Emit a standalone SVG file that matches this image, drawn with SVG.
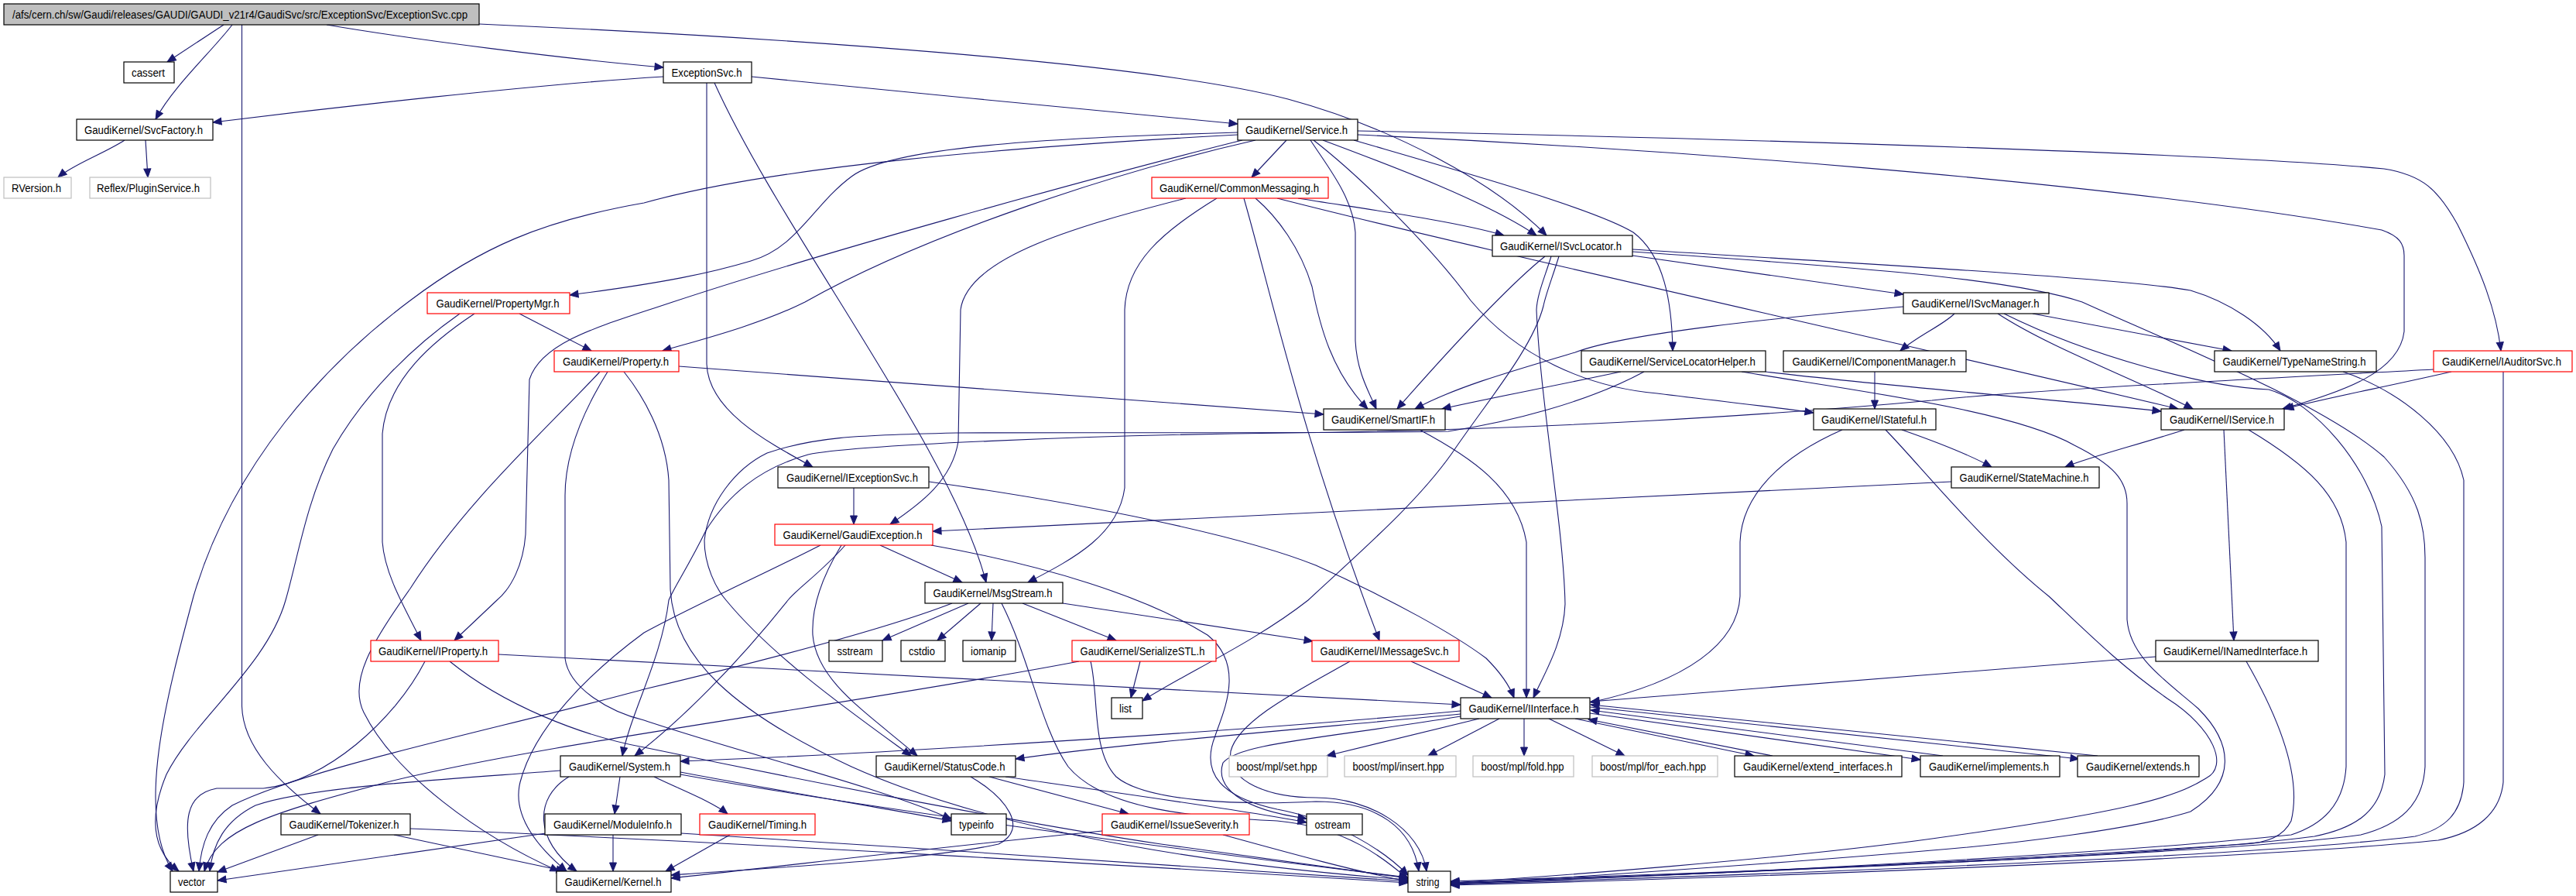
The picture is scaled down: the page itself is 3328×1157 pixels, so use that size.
<svg xmlns="http://www.w3.org/2000/svg" width="3328" height="1157" viewBox="0 0 3328 1157">
<style>
.n rect{fill:#fff;stroke:#000;stroke-width:1.2}
.n.r rect{stroke:#f00}
.n.g rect{stroke:#bfbfbf}
.n.root rect{fill:#bfbfbf}
.n text{font-family:"Liberation Sans",Arial,sans-serif;font-size:14px;fill:#000}
#edges path{fill:none;stroke:#191970;stroke-width:1.1;marker-end:url(#ah)}
</style>
<defs>
<marker id="ah" markerUnits="userSpaceOnUse" markerWidth="13" markerHeight="11" refX="11" refY="4.5" orient="auto" viewBox="-1 -1 13 11"><path d="M0,0 L11,4.5 L0,9 z" fill="#191970" stroke="#191970" stroke-width="1"/></marker>
</defs>
<rect width="3328" height="1157" fill="#fff"/>
<g id="edges">
<path d="M289,32 L216,80"/>
<path d="M300,32 C275,65 225,110 201,154"/>
<path d="M312.5,32 L312.5,912 C314,965 360,1010 414,1051"/>
<path d="M422,32 C540,52 730,76 857,87"/>
<path d="M619,31 C1000,48 1480,80 1664,128 C1800,165 1930,235 1998,304"/>
<path d="M857,99 C700,108 420,140 275,158"/>
<path d="M971,99 C1150,117 1450,146 1599,160"/>
<path d="M913,107 L913,470 C915,530 990,570 1050,603"/>
<path d="M923,107 C1010,300 1230,580 1274,752"/>
<path d="M161,181 C135,198 95,212 75,229"/>
<path d="M188,181 L191,229"/>
<path d="M1662,181 L1617,229"/>
<path d="M1709,181 C1800,215 1920,260 1985,304"/>
<path d="M1677,256 C1750,268 1880,285 1943,304"/>
<path d="M1599,171 C1350,178 1150,190 1100,228 C1050,265 1030,320 970,337 C920,352 860,365 736,381"/>
<path d="M1599,174 C1300,190 1000,215 832,262 C700,285 620,320 530,388 C420,470 300,600 250,770 C215,900 175,1050 223,1125"/>
<path d="M1622,181 C1450,220 1200,300 1040,390 C980,420 900,440 856,453"/>
<path d="M1605,181 C1400,232 1050,330 869,390 C780,420 700,440 684,490 L679,690 C676,730 660,760 642,775 L587,827"/>
<path d="M1693,181 C1715,215 1748,255 1751,300 L1751,440 C1753,480 1768,505 1778,528"/>
<path d="M1622,256 C1650,280 1680,320 1695,370 C1705,420 1720,480 1767,528"/>
<path d="M1996,331 C1960,360 1900,420 1805,528"/>
<path d="M2459,396 C2300,410 2100,430 2035,455 C1950,480 1880,500 1828,528"/>
<path d="M2094,480 C2000,500 1920,515 1863,528"/>
<path d="M877,473 L1710,535"/>
<path d="M1697,181 C1760,230 1850,320 1900,388 C1960,460 2050,500 2141,508 C2220,518 2290,525 2343,533"/>
<path d="M1749,181 C1900,225 2060,270 2110,300 C2150,330 2160,390 2161,453"/>
<path d="M1754,174 C2100,190 2700,230 3077,297 C3100,305 3106,315 3106,330 L3106,428 C3100,480 3030,505 2949,528"/>
<path d="M1754,169 C2300,180 2900,200 3080,218 C3130,226 3150,245 3175,290 C3205,350 3225,400 3231,453"/>
<path d="M1650,256 C1900,320 2400,430 2814,528"/>
<path d="M1532,256 C1400,290 1250,330 1241,400 L1238,570 C1230,620 1190,650 1150,677"/>
<path d="M1572,256 C1500,300 1455,340 1453,400 L1453,630 C1445,690 1390,720 1328,752"/>
<path d="M1607,256 C1640,370 1680,560 1782,827"/>
<path d="M2109,330 L2459,380"/>
<path d="M2109,322 C2400,340 2750,360 2830,375 C2880,390 2925,420 2946,453"/>
<path d="M2109,325 C2400,345 2600,360 2690,390 C2800,440 3000,520 3080,590 C3125,640 3133,680 3133,720 L3133,990 C3130,1040 3100,1065 3050,1078 C2900,1100 2300,1125 1874,1138"/>
<path d="M2014,331 C2005,360 1997,380 1994,395 C1980,450 1920,520 1876,585 C1830,650 1760,710 1690,775 C1620,830 1530,870 1476,905"/>
<path d="M2004,331 C1995,360 1986,380 1985,400 C1990,520 2020,680 2022,780 C2020,830 1995,870 1981,901"/>
<path d="M2525,405 C2510,420 2480,432 2455,453"/>
<path d="M2626,405 L2883,453"/>
<path d="M2581,405 C2650,450 2760,490 2833,528"/>
<path d="M2589,405 C2700,460 2850,500 2931,503 C2990,520 3060,600 3077,680 L3081,1000 C3075,1050 3040,1070 2990,1080 C2800,1105 2300,1125 1874,1140"/>
<path d="M2281,480 C2450,500 2650,515 2792,531"/>
<path d="M2250,480 C2400,505 2600,530 2680,575 C2730,600 2748,620 2748,650 L2748,800 C2752,850 2800,880 2840,915 C2885,960 2890,1010 2830,1048 C2760,1070 2600,1090 2496,1098 C2300,1115 2000,1135 1874,1142"/>
<path d="M2436,555 C2480,600 2560,700 2647,770 C2700,820 2740,860 2800,902 C2860,940 2880,990 2850,1005 C2810,1030 2750,1048 2496,1083 C2300,1110 2000,1132 1874,1140"/>
<path d="M2422,480 L2422,528"/>
<path d="M3167,480 C3080,500 3000,515 2952,528"/>
<path d="M3234,480 L3234,1010 C3230,1050 3200,1075 3150,1085 C2900,1110 2200,1135 1874,1143"/>
<path d="M3144,477 C2900,490 2600,505 2496,517 C2300,535 2000,555 1664,559 C1400,562 1100,575 1044,587 C980,605 940,640 912,685 C890,730 870,760 864,775 C855,850 815,920 804,976"/>
<path d="M2124,480 C2050,520 1950,545 1871,557 C1700,560 1400,558 1235,559 C1100,562 1050,565 991,585 C950,605 915,650 910,698 C910,730 925,760 938,775 C1000,850 1100,920 1177,976"/>
<path d="M3027,480 C3100,505 3170,560 3183,620 L3183,1010 C3180,1050 3160,1070 3120,1080 C2900,1108 2200,1132 1874,1142"/>
<path d="M1834,555 C1900,590 1960,630 1972,700 L1972,901"/>
<path d="M2380,555 C2300,590 2250,640 2248,700 L2248,770 C2245,830 2180,880 2055,907"/>
<path d="M2457,555 C2500,570 2540,585 2573,603"/>
<path d="M2873,555 L2886,827"/>
<path d="M2822,555 C2760,575 2700,590 2668,603"/>
<path d="M2905,555 C2980,600 3025,640 3031,700 L3031,990 C3028,1040 3000,1065 2960,1078 C2700,1105 2200,1130 1874,1141"/>
<path d="M1103,630 L1103,677"/>
<path d="M1200,622 C1400,650 1600,690 1700,730 C1800,775 1880,820 1920,850 C1940,870 1950,885 1956,901"/>
<path d="M2521,622 L1205,686"/>
<path d="M1137,704 L1243,752"/>
<path d="M1092,704 C1060,740 1030,760 1018,775 C950,860 880,930 820,976"/>
<path d="M1060,704 C990,740 900,780 832,817 C760,870 690,940 672,1010 C662,1050 690,1090 732,1125"/>
<path d="M1087,704 C1065,740 1048,780 1050,820 C1055,880 1120,920 1185,976"/>
<path d="M1203,704 C1350,730 1480,770 1560,820 C1610,860 1580,920 1570,950 C1550,1000 1580,1030 1650,1045 C1730,1060 1790,1100 1819,1130"/>
<path d="M1230,779 C1150,810 1000,850 832,890 C650,940 400,990 300,1040 C270,1060 260,1090 257,1125"/>
<path d="M1251,779 L1140,827"/>
<path d="M1267,779 L1211,827"/>
<path d="M1283,779 L1281,827"/>
<path d="M1321,779 L1442,827"/>
<path d="M1373,779 L1696,828"/>
<path d="M1294,779 C1330,850 1345,940 1380,990 C1430,1050 1560,1055 1650,1060 C1740,1068 1790,1110 1819,1135"/>
<path d="M1823,854 L1927,901"/>
<path d="M1744,854 C1680,890 1600,930 1590,970 C1585,1010 1640,1030 1700,1030 C1770,1030 1835,1070 1843,1125"/>
<path d="M1473,854 L1461,901"/>
<path d="M1394,854 C1100,910 700,960 500,1010 C350,1050 280,1070 264,1125"/>
<path d="M1409,854 C1420,900 1410,970 1442,1003 C1480,1035 1600,1040 1700,1035 C1780,1035 1825,1070 1833,1125"/>
<path d="M644,845 L1887,910"/>
<path d="M549,854 C510,930 420,1010 340,1018 L280,1018 C240,1025 235,1060 250,1125"/>
<path d="M581,854 C650,910 750,950 832,965 C1000,1000 1300,1060 1500,1090 C1650,1110 1750,1125 1819,1134"/>
<path d="M671,405 L764,453"/>
<path d="M613,405 C560,440 500,490 494,560 L494,700 C497,740 520,780 544,827"/>
<path d="M594,405 C530,450 470,510 430,580 C395,650 385,720 369,775 C345,860 250,930 215,1000 C190,1060 200,1100 231,1125"/>
<path d="M806,480 C830,510 860,560 864,620 L866,760 C870,850 950,920 1100,990 C1300,1080 1600,1120 1819,1136"/>
<path d="M785,480 C760,520 730,580 730,640 L730,850 C735,890 790,920 832,930 C950,970 1150,1020 1229,1058"/>
<path d="M775,480 C700,560 600,650 530,760 C480,830 450,880 470,920 C510,1000 620,1080 722,1125"/>
<path d="M735,1003 C690,1030 690,1085 745,1125"/>
<path d="M801,1003 L794,1051"/>
<path d="M845,1003 C880,1020 920,1035 940,1051"/>
<path d="M879,997 C1000,1020 1150,1045 1229,1060"/>
<path d="M724,995 C600,1005 400,1015 330,1040 C290,1060 275,1090 271,1125"/>
<path d="M879,1000 C1100,1040 1500,1095 1819,1133"/>
<path d="M509,1078 L730,1125"/>
<path d="M411,1078 L281,1126"/>
<path d="M530,1070 C900,1085 1500,1120 1819,1140"/>
<path d="M792,1078 L792,1125"/>
<path d="M705,1076 L281,1137"/>
<path d="M880,1076 C1200,1095 1600,1125 1819,1138"/>
<path d="M943,1078 L860,1125"/>
<path d="M1254,1003 C1300,1030 1330,1070 1290,1090 C1200,1110 1000,1120 867,1130"/>
<path d="M1278,1003 L1458,1051"/>
<path d="M1299,1003 C1450,1025 1600,1045 1688,1062"/>
<path d="M1424,1073 C1200,1095 1000,1120 867,1134"/>
<path d="M1580,1078 C1660,1100 1750,1125 1819,1138"/>
<path d="M1887,918 C1600,945 1100,975 879,983"/>
<path d="M1887,922 C1700,940 1450,960 1312,980"/>
<path d="M1887,925 C1700,955 1600,960 1580,985 C1570,1015 1600,1045 1688,1057"/>
<path d="M1911,928 L1714,976"/>
<path d="M1937,928 L1845,976"/>
<path d="M1969,928 L1969,976"/>
<path d="M2001,928 L2099,976"/>
<path d="M2035,928 L2266,976"/>
<path d="M2290,976 L2052,929"/>
<path d="M2054,921 L2481,981"/>
<path d="M2510,976 L2055,917"/>
<path d="M2054,913 L2686,980"/>
<path d="M2710,976 L2055,910"/>
<path d="M2785,848 L2055,906"/>
<path d="M2902,854 C2940,920 2975,1000 2960,1060 C2950,1080 2930,1088 2900,1090 C2600,1110 2200,1130 1874,1140"/>
</g>
<g id="n_root" class="n root"><rect x="5" y="5" width="614" height="27"/><text x="16" y="23.5" textLength="588" lengthAdjust="spacingAndGlyphs">/afs/cern.ch/sw/Gaudi/releases/GAUDI/GAUDI_v21r4/GaudiSvc/src/ExceptionSvc/ExceptionSvc.cpp</text></g>
<g id="n_cassert" class="n"><rect x="160" y="80" width="65" height="27"/><text x="170" y="98.5" textLength="43" lengthAdjust="spacingAndGlyphs">cassert</text></g>
<g id="n_ExceptionSvc" class="n"><rect x="857" y="80" width="114" height="27"/><text x="867.5" y="98.5" textLength="91" lengthAdjust="spacingAndGlyphs">ExceptionSvc.h</text></g>
<g id="n_SvcFactory" class="n"><rect x="99" y="154" width="176" height="27"/><text x="109" y="172.5" textLength="153" lengthAdjust="spacingAndGlyphs">GaudiKernel/SvcFactory.h</text></g>
<g id="n_Service" class="n"><rect x="1599" y="154" width="155" height="27"/><text x="1609" y="172.5" textLength="132" lengthAdjust="spacingAndGlyphs">GaudiKernel/Service.h</text></g>
<g id="n_RVersion" class="n g"><rect x="5" y="229" width="87" height="27"/><text x="15" y="247.5" textLength="64" lengthAdjust="spacingAndGlyphs">RVersion.h</text></g>
<g id="n_PluginService" class="n g"><rect x="116" y="229" width="156" height="27"/><text x="125" y="247.5" textLength="133" lengthAdjust="spacingAndGlyphs">Reflex/PluginService.h</text></g>
<g id="n_CommonMessaging" class="n r"><rect x="1488" y="229" width="228" height="27"/><text x="1498" y="247.5" textLength="206" lengthAdjust="spacingAndGlyphs">GaudiKernel/CommonMessaging.h</text></g>
<g id="n_ISvcLocator" class="n"><rect x="1928" y="304" width="181" height="27"/><text x="1938" y="322.5" textLength="157" lengthAdjust="spacingAndGlyphs">GaudiKernel/ISvcLocator.h</text></g>
<g id="n_PropertyMgr" class="n r"><rect x="552" y="378" width="184" height="27"/><text x="563.5" y="396.5" textLength="159" lengthAdjust="spacingAndGlyphs">GaudiKernel/PropertyMgr.h</text></g>
<g id="n_ISvcManager" class="n"><rect x="2459" y="378" width="188" height="27"/><text x="2469.5" y="396.5" textLength="165" lengthAdjust="spacingAndGlyphs">GaudiKernel/ISvcManager.h</text></g>
<g id="n_Property" class="n r"><rect x="716" y="453" width="161" height="27"/><text x="727" y="471.5" textLength="137" lengthAdjust="spacingAndGlyphs">GaudiKernel/Property.h</text></g>
<g id="n_ServiceLocatorHelper" class="n"><rect x="2043" y="453" width="238" height="27"/><text x="2053" y="471.5" textLength="215" lengthAdjust="spacingAndGlyphs">GaudiKernel/ServiceLocatorHelper.h</text></g>
<g id="n_IComponentManager" class="n"><rect x="2304" y="453" width="236" height="27"/><text x="2315.5" y="471.5" textLength="211" lengthAdjust="spacingAndGlyphs">GaudiKernel/IComponentManager.h</text></g>
<g id="n_TypeNameString" class="n"><rect x="2861" y="453" width="209" height="27"/><text x="2871.5" y="471.5" textLength="185" lengthAdjust="spacingAndGlyphs">GaudiKernel/TypeNameString.h</text></g>
<g id="n_IAuditorSvc" class="n r"><rect x="3144" y="453" width="179" height="27"/><text x="3155" y="471.5" textLength="154" lengthAdjust="spacingAndGlyphs">GaudiKernel/IAuditorSvc.h</text></g>
<g id="n_SmartIF" class="n"><rect x="1710" y="528" width="157" height="27"/><text x="1720" y="546.5" textLength="134" lengthAdjust="spacingAndGlyphs">GaudiKernel/SmartIF.h</text></g>
<g id="n_IStateful" class="n"><rect x="2343" y="528" width="158" height="27"/><text x="2353" y="546.5" textLength="136" lengthAdjust="spacingAndGlyphs">GaudiKernel/IStateful.h</text></g>
<g id="n_IService" class="n"><rect x="2792" y="528" width="159" height="27"/><text x="2803" y="546.5" textLength="135" lengthAdjust="spacingAndGlyphs">GaudiKernel/IService.h</text></g>
<g id="n_IExceptionSvc" class="n"><rect x="1005" y="603" width="195" height="27"/><text x="1016" y="621.5" textLength="170" lengthAdjust="spacingAndGlyphs">GaudiKernel/IExceptionSvc.h</text></g>
<g id="n_StateMachine" class="n"><rect x="2521" y="603" width="191" height="27"/><text x="2531.5" y="621.5" textLength="167" lengthAdjust="spacingAndGlyphs">GaudiKernel/StateMachine.h</text></g>
<g id="n_GaudiException" class="n r"><rect x="1001" y="677" width="204" height="27"/><text x="1011.5" y="695.5" textLength="180" lengthAdjust="spacingAndGlyphs">GaudiKernel/GaudiException.h</text></g>
<g id="n_MsgStream" class="n"><rect x="1195" y="752" width="178" height="27"/><text x="1205.5" y="770.5" textLength="154" lengthAdjust="spacingAndGlyphs">GaudiKernel/MsgStream.h</text></g>
<g id="n_IProperty" class="n r"><rect x="479" y="827" width="165" height="27"/><text x="489" y="845.5" textLength="141" lengthAdjust="spacingAndGlyphs">GaudiKernel/IProperty.h</text></g>
<g id="n_sstream" class="n"><rect x="1071" y="827" width="69" height="27"/><text x="1081.5" y="845.5" textLength="46" lengthAdjust="spacingAndGlyphs">sstream</text></g>
<g id="n_cstdio" class="n"><rect x="1164" y="827" width="57" height="27"/><text x="1174" y="845.5" textLength="34" lengthAdjust="spacingAndGlyphs">cstdio</text></g>
<g id="n_iomanip" class="n"><rect x="1244" y="827" width="68" height="27"/><text x="1254" y="845.5" textLength="46" lengthAdjust="spacingAndGlyphs">iomanip</text></g>
<g id="n_SerializeSTL" class="n r"><rect x="1385" y="827" width="186" height="27"/><text x="1395.5" y="845.5" textLength="161" lengthAdjust="spacingAndGlyphs">GaudiKernel/SerializeSTL.h</text></g>
<g id="n_IMessageSvc" class="n r"><rect x="1695" y="827" width="190" height="27"/><text x="1705.5" y="845.5" textLength="166" lengthAdjust="spacingAndGlyphs">GaudiKernel/IMessageSvc.h</text></g>
<g id="n_INamedInterface" class="n"><rect x="2785" y="827" width="210" height="27"/><text x="2795" y="845.5" textLength="186" lengthAdjust="spacingAndGlyphs">GaudiKernel/INamedInterface.h</text></g>
<g id="n_list" class="n"><rect x="1436" y="901" width="40" height="27"/><text x="1446" y="919.5" textLength="16" lengthAdjust="spacingAndGlyphs">list</text></g>
<g id="n_IInterface" class="n"><rect x="1887" y="901" width="167" height="27"/><text x="1897.5" y="919.5" textLength="142" lengthAdjust="spacingAndGlyphs">GaudiKernel/IInterface.h</text></g>
<g id="n_System" class="n"><rect x="724" y="976" width="155" height="27"/><text x="735" y="994.5" textLength="131" lengthAdjust="spacingAndGlyphs">GaudiKernel/System.h</text></g>
<g id="n_StatusCode" class="n"><rect x="1132" y="976" width="180" height="27"/><text x="1142.5" y="994.5" textLength="156" lengthAdjust="spacingAndGlyphs">GaudiKernel/StatusCode.h</text></g>
<g id="n_set" class="n g"><rect x="1588" y="976" width="127" height="27"/><text x="1597.5" y="994.5" textLength="104" lengthAdjust="spacingAndGlyphs">boost/mpl/set.hpp</text></g>
<g id="n_insert" class="n g"><rect x="1737" y="976" width="144" height="27"/><text x="1747.5" y="994.5" textLength="118" lengthAdjust="spacingAndGlyphs">boost/mpl/insert.hpp</text></g>
<g id="n_fold" class="n g"><rect x="1903" y="976" width="130" height="27"/><text x="1913.5" y="994.5" textLength="107" lengthAdjust="spacingAndGlyphs">boost/mpl/fold.hpp</text></g>
<g id="n_for_each" class="n g"><rect x="2057" y="976" width="162" height="27"/><text x="2067" y="994.5" textLength="137" lengthAdjust="spacingAndGlyphs">boost/mpl/for_each.hpp</text></g>
<g id="n_extend_interfaces" class="n"><rect x="2241" y="976" width="216" height="27"/><text x="2252" y="994.5" textLength="193" lengthAdjust="spacingAndGlyphs">GaudiKernel/extend_interfaces.h</text></g>
<g id="n_implements" class="n"><rect x="2481" y="976" width="180" height="27"/><text x="2492" y="994.5" textLength="155" lengthAdjust="spacingAndGlyphs">GaudiKernel/implements.h</text></g>
<g id="n_extends" class="n"><rect x="2684" y="976" width="157" height="27"/><text x="2695" y="994.5" textLength="134" lengthAdjust="spacingAndGlyphs">GaudiKernel/extends.h</text></g>
<g id="n_Tokenizer" class="n"><rect x="363" y="1051" width="167" height="27"/><text x="373.5" y="1069.5" textLength="142" lengthAdjust="spacingAndGlyphs">GaudiKernel/Tokenizer.h</text></g>
<g id="n_ModuleInfo" class="n"><rect x="704" y="1051" width="176" height="27"/><text x="715" y="1069.5" textLength="153" lengthAdjust="spacingAndGlyphs">GaudiKernel/ModuleInfo.h</text></g>
<g id="n_Timing" class="n r"><rect x="904" y="1051" width="149" height="27"/><text x="915" y="1069.5" textLength="127" lengthAdjust="spacingAndGlyphs">GaudiKernel/Timing.h</text></g>
<g id="n_typeinfo" class="n"><rect x="1229" y="1051" width="71" height="27"/><text x="1239" y="1069.5" textLength="45" lengthAdjust="spacingAndGlyphs">typeinfo</text></g>
<g id="n_IssueSeverity" class="n r"><rect x="1424" y="1051" width="190" height="27"/><text x="1435" y="1069.5" textLength="165" lengthAdjust="spacingAndGlyphs">GaudiKernel/IssueSeverity.h</text></g>
<g id="n_ostream" class="n"><rect x="1688" y="1051" width="72" height="27"/><text x="1698.5" y="1069.5" textLength="46" lengthAdjust="spacingAndGlyphs">ostream</text></g>
<g id="n_vector" class="n"><rect x="220" y="1125" width="61" height="27"/><text x="230" y="1143.5" textLength="35" lengthAdjust="spacingAndGlyphs">vector</text></g>
<g id="n_Kernel" class="n"><rect x="719" y="1125" width="148" height="27"/><text x="729.5" y="1143.5" textLength="125" lengthAdjust="spacingAndGlyphs">GaudiKernel/Kernel.h</text></g>
<g id="n_string" class="n"><rect x="1819" y="1125" width="55" height="27"/><text x="1829.5" y="1143.5" textLength="30" lengthAdjust="spacingAndGlyphs">string</text></g>
</svg>
